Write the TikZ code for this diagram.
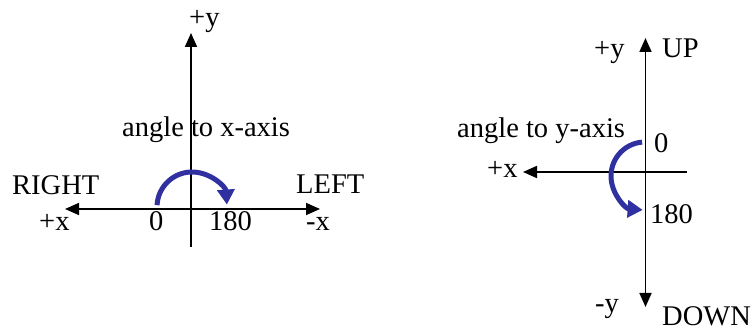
\documentclass[tikz,border=0pt]{standalone}
\usepackage{fontspec}
\setmainfont{Liberation Serif}
\usetikzlibrary{arrows.meta}
\definecolor{arcblue}{RGB}{48,48,160}
\begin{document}
\begin{tikzpicture}[x=1pt,y=1pt,
  lbl/.style={inner sep=0pt, anchor=base west, font=\fontsize{28.5}{31}\selectfont},
  axis/.style={line width=1.7pt, black},
  ah/.tip={Triangle[length=14pt,width=12pt]},
  turn/.style={line width=5pt, arcblue, -{Triangle[length=15pt,width=17pt]}}]
\useasboundingbox (0,0) rectangle (753,331);
% ---- left diagram ----
\coordinate (Ltop) at (191,298);
\coordinate (Lbot) at (191,84);
\coordinate (Lleft) at (65,122);
\coordinate (Lrt) at (320,122);
\coordinate (Lc) at (192,124);
\draw[axis,-ah] (Lbot) -- (Ltop);
\draw[axis,ah-ah] (Lleft) -- (Lrt);
\draw[turn] (Lc) ++(177:35) arc[start angle=177, end angle=4, radius=35];
\node[lbl] (Lpy) at (189,304) {+y};
\node[lbl] (Lang) at (122,194) {angle to x-axis};
\node[lbl] (Lright) at (12,136) {RIGHT};
\node[lbl] (Lleftlbl) at (296,137) {LEFT};
\node[lbl] (Lpx) at (39,100) {+x};
\node[lbl] (Lzero) at (149,100) {0};
\node[lbl] (Lot) at (209,100) {180};
\node[lbl] (Lmx) at (306,100) {-x};
% ---- right diagram ----
\coordinate (Rtop) at (645.5,293);
\coordinate (Rbot) at (645.5,24);
\coordinate (Rleft) at (523,159);
\coordinate (Rright) at (687,159);
\coordinate (Rc) at (645,155);
\draw[axis,ah-ah] (Rbot) -- (Rtop);
\draw[axis,-ah] (Rright) -- (Rleft);
\draw[turn] (Rc) ++(95:34) arc[start angle=95, end angle=266, radius=34];
\node[lbl] (Rpy) at (594,273) {+y};
\node[lbl] (Rup) at (662,273) {UP};
\node[lbl] (Rang) at (457,193) {angle to y-axis};
\node[lbl] (Rzero) at (654,178) {0};
\node[lbl] (Rpx) at (487,153) {+x};
\node[lbl] (Rot) at (650,107) {180};
\node[lbl] (Rmy) at (595,18) {-y};
\node[lbl] (Rdown) at (662,5) {DOWN};
\end{tikzpicture}
\end{document}
